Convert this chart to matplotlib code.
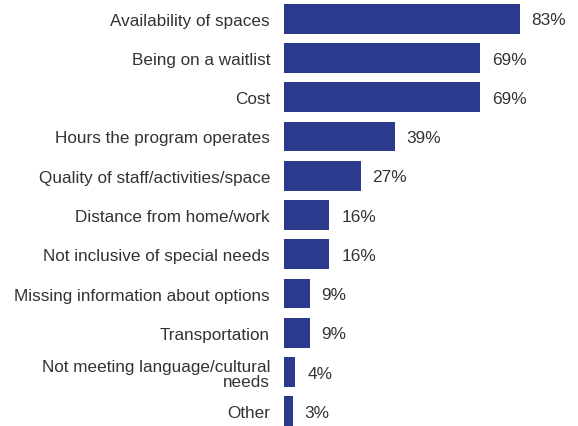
import matplotlib.pyplot as plt

categories = ["Availability of spaces", "Being on a waitlist", "Cost",
              "Hours the program operates", "Quality of staff/activities/space",
              "Distance from home/work", "Not inclusive of special needs",
              "Missing information about options", "Transportation",
              "Not meeting language/cultural\nneeds", "Other"]
values = [83, 69, 69, 39, 27, 16, 16, 9, 9, 4, 3]

plt.rcParams['font.family'] = ['Liberation Sans', 'DejaVu Sans']
txt = '#333333'

fig = plt.figure(figsize=(5.78, 4.27), dpi=100)
# axes placed so 1% = 2.84 px and bars line up with the reference
ax = fig.add_axes([284/578, -5/427, 284/578, 432/427])
y = list(range(len(categories)))
ax.barh(y, values, height=0.76, color='#2B3A8C')
for yi, v in zip(y, values):
    ax.text(v + 4.2, yi + 0.03, f"{v}%", va='center', ha='left', fontsize=12.4, color=txt)
ax.set_yticks(y)
ax.set_yticklabels(categories, fontsize=12.3, color=txt, linespacing=1.05)
ax.tick_params(axis='y', length=0, pad=10)
ax.set_xlim(0, 100)
ax.set_ylim(10.5, -0.5)
ax.set_xticks([])
for s in ax.spines.values():
    s.set_visible(False)

fig.savefig('out.png', dpi=100)
